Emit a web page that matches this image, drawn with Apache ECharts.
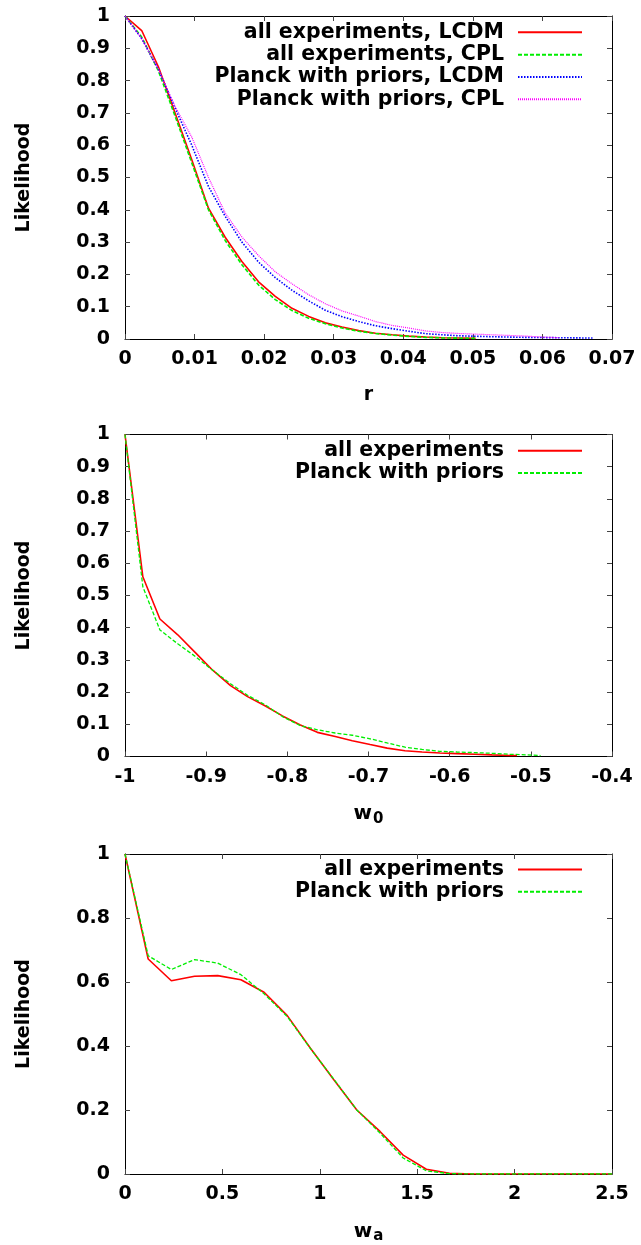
<!DOCTYPE html>
<html>
<head>
<meta charset="utf-8">
<script src="https://cdn.jsdelivr.net/npm/echarts@6/dist/echarts.min.js"></script>
<style>
html,body{margin:0;padding:0;background:#fff;}
#chart{width:641px;height:1245px;}
</style>
</head>
<body>
<div id="chart"></div>
<script>
// ---------- Panel 1 : r ----------
const rAll = [0, 0.0024, 0.0048, 0.0072, 0.0096, 0.012, 0.0144, 0.0168, 0.0192, 0.0216, 0.024, 0.0264, 0.0288, 0.0312, 0.0336, 0.036, 0.0384, 0.0408, 0.0432, 0.0456, 0.048, 0.0504];
const likeAllLCDM = [1, 0.955, 0.843, 0.70, 0.555, 0.405, 0.315, 0.24, 0.177, 0.132, 0.095, 0.07, 0.05, 0.037, 0.026, 0.018, 0.013, 0.009, 0.006, 0.004, 0.003, 0.002];
const likeAllCPL  = [1, 0.935, 0.83, 0.69, 0.545, 0.40, 0.305, 0.23, 0.167, 0.122, 0.088, 0.064, 0.047, 0.034, 0.024, 0.017, 0.012, 0.008, 0.005, 0.0035, 0.0025, 0.002];
const rPlanckLCDM = [0, 0.0024, 0.0048, 0.0072, 0.0096, 0.012, 0.0144, 0.0168, 0.0192, 0.0216, 0.024, 0.0264, 0.0288, 0.0312, 0.0336, 0.036, 0.0384, 0.0408, 0.0432, 0.0456, 0.048, 0.0504, 0.0528, 0.0552, 0.0576, 0.06, 0.0624, 0.0648, 0.0672];
const likePlanckLCDM = [1, 0.93, 0.835, 0.715, 0.60, 0.472, 0.38, 0.30, 0.238, 0.19, 0.151, 0.118, 0.089, 0.069, 0.054, 0.041, 0.032, 0.024, 0.0165, 0.013, 0.010, 0.0085, 0.007, 0.006, 0.005, 0.0045, 0.004, 0.0035, 0.003];
const rPlanckCPL = [0, 0.0024, 0.0048, 0.0072, 0.0096, 0.012, 0.0144, 0.0168, 0.0192, 0.0216, 0.024, 0.0264, 0.0288, 0.0312, 0.0336, 0.036, 0.0384, 0.0408, 0.0432, 0.0456, 0.048, 0.0504, 0.0528, 0.0552, 0.0576, 0.06, 0.0624];
const likePlanckCPL = [1, 0.93, 0.835, 0.72, 0.625, 0.50, 0.39, 0.316, 0.258, 0.208, 0.171, 0.137, 0.109, 0.087, 0.071, 0.054, 0.042, 0.034, 0.025, 0.020, 0.017, 0.015, 0.013, 0.011, 0.009, 0.006, 0.004];
const rTicks = [0, 0.01, 0.02, 0.03, 0.04, 0.05, 0.06, 0.07];
const like1Ticks = [0, 0.1, 0.2, 0.3, 0.4, 0.5, 0.6, 0.7, 0.8, 0.9, 1];
const names1 = ['all experiments, LCDM', 'all experiments, CPL', 'Planck with priors, LCDM', 'Planck with priors, CPL'];

// ---------- Panel 2 : w0 ----------
const w0All = [-1.000, -0.978, -0.957, -0.935, -0.913, -0.892, -0.870, -0.849, -0.827, -0.806, -0.784, -0.763, -0.741, -0.720, -0.698, -0.677, -0.655, -0.634, -0.612, -0.591, -0.569, -0.548, -0.526, -0.517];
const likeW0All = [1.0, 0.558, 0.427, 0.378, 0.322, 0.268, 0.220, 0.186, 0.157, 0.126, 0.098, 0.075, 0.062, 0.049, 0.037, 0.026, 0.018, 0.014, 0.011, 0.009, 0.007, 0.005, 0.003, 0.003];
const w0Planck = [-1.000, -0.978, -0.957, -0.935, -0.913, -0.892, -0.870, -0.849, -0.827, -0.806, -0.784, -0.763, -0.741, -0.720, -0.698, -0.677, -0.655, -0.634, -0.612, -0.591, -0.569, -0.548, -0.526, -0.505, -0.488];
const likeW0Planck = [1.0, 0.527, 0.393, 0.350, 0.310, 0.268, 0.226, 0.190, 0.160, 0.124, 0.096, 0.083, 0.073, 0.066, 0.055, 0.042, 0.029, 0.022, 0.016, 0.014, 0.012, 0.010, 0.007, 0.005, 0.003];
const w0Ticks = [-1, -0.9, -0.8, -0.7, -0.6, -0.5, -0.4];
const like2Ticks = [0, 0.1, 0.2, 0.3, 0.4, 0.5, 0.6, 0.7, 0.8, 0.9, 1];

// ---------- Panel 3 : wa ----------
const waGrid = [0, 0.119, 0.238, 0.357, 0.476, 0.595, 0.714, 0.833, 0.952, 1.071, 1.190, 1.309, 1.428, 1.547, 1.666, 1.785, 1.904, 2.023, 2.142, 2.261, 2.380, 2.5];
const likeWaAll    = [1, 0.672, 0.604, 0.618, 0.620, 0.607, 0.568, 0.495, 0.393, 0.295, 0.200, 0.133, 0.059, 0.015, 0.002, 0, 0, 0, 0, 0, 0, 0];
const likeWaPlanck = [1, 0.682, 0.639, 0.670, 0.659, 0.623, 0.563, 0.492, 0.392, 0.297, 0.200, 0.128, 0.050, 0.010, 0.001, 0, 0, 0, 0, 0, 0, 0];
const waTicks = [0, 0.5, 1, 1.5, 2, 2.5];
const like3Ticks = [0, 0.2, 0.4, 0.6, 0.8, 1];
const names23 = ['all experiments', 'Planck with priors'];

const FONT = 'DejaVu Sans';
const pairs = (xs, ys) => xs.map((x, i) => [x, ys[i]]);
const fmt = v => String(parseFloat(v.toFixed(3)));

const grids = [
  {left: 125, top: 16, width: 487, height: 323},
  {left: 125, top: 434.5, width: 487, height: 322},
  {left: 125, top: 854, width: 487, height: 321}
];
const xTicksAll = [rTicks, w0Ticks, waTicks];
const yTicksAll = [like1Ticks, like2Ticks, like3Ticks];
const xNames = ['r', '{w|w}{s|0}', '{w|w}{s|a}'];

const tickStyle = {show: true, inside: true, length: 5, lineStyle: {color: '#444', width: 1}};
const labelStyle = {fontFamily: FONT, fontWeight: 'bold', fontSize: 19, color: '#000'};
const richName = {
  w: {fontFamily: FONT, fontWeight: 'bold', fontSize: 20, color: '#000'},
  s: {fontFamily: FONT, fontWeight: 'bold', fontSize: 15, color: '#000', padding: [10, 0, 0, 1]}
};

const xAxes = [], yAxes = [];
for (let g = 0; g < 3; g++) {
  const xt = xTicksAll[g], yt = yTicksAll[g];
  const xBase = {gridIndex: g, type: 'value', min: xt[0], max: xt[xt.length - 1], interval: xt[1] - xt[0], splitLine: {show: false}};
  const yBase = {gridIndex: g, type: 'value', min: yt[0], max: yt[yt.length - 1], interval: yt[1] - yt[0], splitLine: {show: false}};
  xAxes.push(Object.assign({}, xBase, {
    position: 'bottom',
    axisLine: {show: true, onZero: false, lineStyle: {color: '#000', width: 1}},
    axisTick: tickStyle,
    axisLabel: Object.assign({margin: 11, formatter: fmt, showMinLabel: true, showMaxLabel: true}, labelStyle),
    name: xNames[g], nameLocation: 'middle', nameGap: g === 0 ? 47 : 45,
    nameTextStyle: Object.assign({rich: richName}, labelStyle)
  }));
  xAxes.push(Object.assign({}, xBase, {
    position: 'top',
    axisLine: {show: true, onZero: false, lineStyle: {color: '#000', width: 1}},
    axisTick: tickStyle, axisLabel: {show: false}
  }));
  yAxes.push(Object.assign({}, yBase, {
    position: 'left',
    axisLine: {show: true, onZero: false, lineStyle: {color: '#000', width: 1}},
    axisTick: tickStyle,
    axisLabel: Object.assign({margin: 15, formatter: fmt, showMinLabel: true, showMaxLabel: true}, labelStyle),
    name: 'Likelihood', nameLocation: 'middle', nameRotate: 90, nameGap: 91,
    nameTextStyle: labelStyle
  }));
  yAxes.push(Object.assign({}, yBase, {
    position: 'right',
    axisLine: {show: true, onZero: false, lineStyle: {color: '#000', width: 1}},
    axisTick: tickStyle, axisLabel: {show: false}
  }));
}

const RED = '#ff0000', GREEN = '#00ee00', BLUE = '#0000ff', MAG = '#ff00ff';
function line(name, g, data, color, width, type) {
  return {
    name: name, type: 'line', xAxisIndex: 2 * g, yAxisIndex: 2 * g,
    data: data, showSymbol: false, symbol: 'none', smooth: false,
    lineStyle: {color: color, width: width, type: type}, itemStyle: {color: color},
    emphasis: {disabled: true}, silent: true, animation: false, z: 3
  };
}

const series = [
  line(names1[0], 0, pairs(rAll, likeAllLCDM), RED, 1.6, 'solid'),
  line(names1[1], 0, pairs(rAll, likeAllCPL), GREEN, 1.6, [4, 2]),
  line(names1[2], 0, pairs(rPlanckLCDM, likePlanckLCDM), BLUE, 1.6, [1.5, 1.5]),
  line(names1[3], 0, pairs(rPlanckCPL, likePlanckCPL), MAG, 1.2, [1, 1]),
  line(names23[0], 1, pairs(w0All, likeW0All), RED, 1.6, 'solid'),
  line(names23[1], 1, pairs(w0Planck, likeW0Planck), GREEN, 1.3, [4, 2]),
  line(names23[0], 2, pairs(waGrid, likeWaAll), RED, 1.6, 'solid'),
  line(names23[1], 2, pairs(waGrid, likeWaPlanck), GREEN, 1.3, [4, 2])
];

const legendBase = {
  orient: 'vertical', align: 'right', right: 58, padding: 0, itemWidth: 64, itemHeight: 14, itemGap: 0,
  selectedMode: false,
  itemStyle: {opacity: 0},
  textStyle: {fontFamily: FONT, fontWeight: 'bold', fontSize: 20.5, color: '#000', lineHeight: 22.3, padding: [0, 9, 0, 0]}
};
const legends = [
  Object.assign({}, legendBase, {top: 21.2, data: names1}),
  Object.assign({}, legendBase, {top: 439.6, data: names23}),
  Object.assign({}, legendBase, {top: 858.3, data: names23})
];

const chart = echarts.init(document.getElementById('chart'), null, {renderer: 'canvas'});
chart.setOption({
  animation: false,
  backgroundColor: '#fff',
  grid: grids,
  xAxis: xAxes,
  yAxis: yAxes,
  legend: legends,
  series: series
});
</script>
</body>
</html>
